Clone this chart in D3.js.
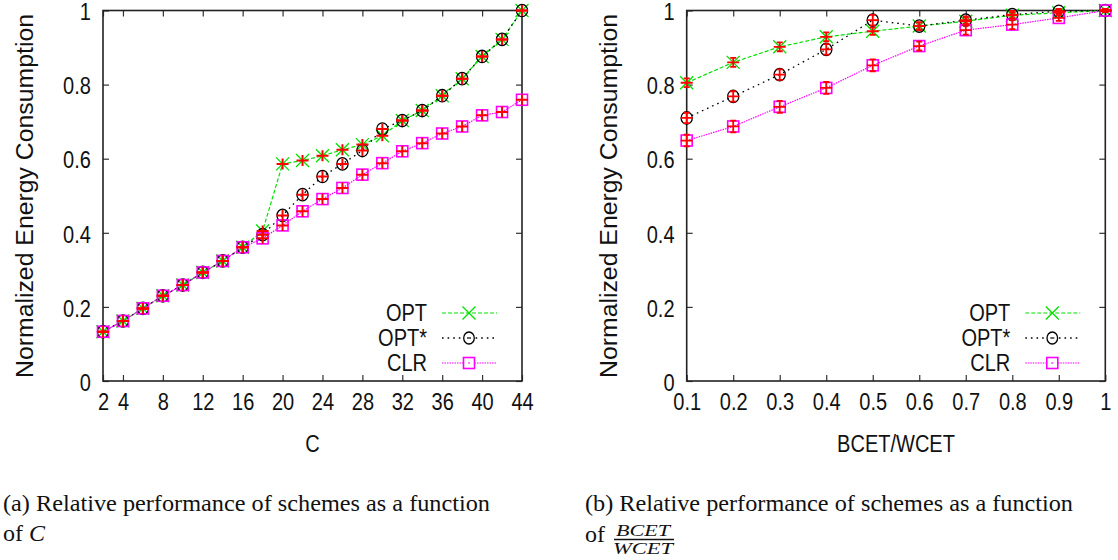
<!DOCTYPE html>
<html><head><meta charset="utf-8">
<script src="https://cdn.jsdelivr.net/npm/d3@7"></script>
<style>body{margin:0;background:#fff}svg{display:block}</style>
</head><body>
<svg id="c" width="1118" height="560"></svg>
<script>
// ---- data: plot (a), x = C ----
const cValues   = [2,4,6,8,10,12,14,16,18,20,22,24,26,28,30,32,34,36,38,40,42,44];
const cTicks    = [2,4,8,12,16,20,24,28,32,36,40,44];
const optC      = [0.133,0.162,0.196,0.230,0.259,0.293,0.324,0.361,0.405,0.586,0.595,0.608,0.624,0.638,0.662,0.703,0.730,0.770,0.816,0.876,0.922,1.000];
const optStarC  = [0.133,0.162,0.196,0.230,0.259,0.293,0.324,0.361,0.395,0.447,0.503,0.552,0.586,0.622,0.680,0.703,0.730,0.770,0.816,0.876,0.922,1.000];
const clrC      = [0.133,0.162,0.196,0.230,0.259,0.293,0.324,0.361,0.385,0.420,0.458,0.491,0.521,0.557,0.588,0.620,0.642,0.668,0.687,0.717,0.726,0.759];
// ---- data: plot (b), x = BCET/WCET ----
const ratioValues = [0.1,0.2,0.3,0.4,0.5,0.6,0.7,0.8,0.9,1.0];
const ratioTickLabels = ["0.1","0.2","0.3","0.4","0.5","0.6","0.7","0.8","0.9","1"];
const optR      = [0.805,0.860,0.902,0.929,0.944,0.958,0.971,0.987,0.994,1.000];
const optStarR  = [0.710,0.768,0.827,0.895,0.974,0.958,0.974,0.989,0.998,1.000];
const clrR      = [0.649,0.687,0.740,0.791,0.852,0.904,0.947,0.962,0.980,1.000];
const errOptR     = [0.012,0.012,0.012,0.012,0.010,0.010,0.010,0.008,0.006,0.004];
const errOptStarR = [0.014,0.014,0.014,0.014,0.014,0.010,0.010,0.010,0.006,0.004];
const errClrR     = [0.016,0.016,0.016,0.016,0.016,0.012,0.012,0.012,0.008,0.004];
// ---- shared ----
const yTicks = [0,0.2,0.4,0.6,0.8,1];
const yTickLabels = ["0","0.2","0.4","0.6","0.8","1"];
const seriesNames = ["OPT","OPT*","CLR"];

const svg = d3.select("#c");
const SANS = "'Liberation Sans', Arial, Helvetica, sans-serif";
const SERIF = "'Liberation Serif', 'Times New Roman', serif";
const SX = 0.87;
const GREEN = "#00e000", MAG = "#ff00ff", RED = "#ff0000";

const yTop = 10.5, yBottom = 381;

function crossPath(s){return `M${-s},${-s}L${s},${s}M${-s},${s}L${s},${-s}`;}

function panel(opts){
  const {x0,x1,xDomain,xTickVals,xTickFmt,xs,ser,errs,xLabel,yLabelLen} = opts;
  const x = d3.scaleLinear().domain(xDomain).range([x0,x1]);
  const y = d3.scaleLinear().domain([0,1]).range([yBottom,yTop]);
  const g = svg.append("g");

  const styleAxis = a => { a.select(".domain").remove(); a.selectAll("line").attr("stroke","#333").attr("stroke-width",1.2); };
  const ab = g.append("g").attr("transform",`translate(0,${yBottom})`)
    .call(d3.axisBottom(x).tickValues(xTickVals).tickFormat(xTickFmt).tickSize(-6).tickSizeOuter(0).tickPadding(13));
  styleAxis(ab);
  const at = g.append("g").attr("transform",`translate(0,${yTop})`)
    .call(d3.axisTop(x).tickValues(xTickVals).tickFormat("").tickSize(-6).tickSizeOuter(0));
  styleAxis(at);
  const al = g.append("g").attr("transform",`translate(${x0},0)`)
    .call(d3.axisLeft(y).tickValues(yTicks).tickFormat((d,i)=>yTickLabels[i]).tickSize(-6).tickSizeOuter(0).tickPadding(14));
  styleAxis(al);
  const ar = g.append("g").attr("transform",`translate(${x1},0)`)
    .call(d3.axisRight(y).tickValues(yTicks).tickFormat("").tickSize(-6).tickSizeOuter(0));
  styleAxis(ar);
  [ab,al].forEach(a=>a.selectAll("text").attr("font-family",SANS).attr("font-size",23).attr("fill","#111").attr("transform",`scale(${SX},1)`));
  al.selectAll("text").attr("dy","0.4em");

  g.append("rect").attr("x",x0).attr("y",yTop).attr("width",x1-x0).attr("height",yBottom-yTop)
    .attr("fill","none").attr("stroke","#222").attr("stroke-width",1.6);

  const styles = [
    {color:GREEN, dash:"4,2", w:1.2},
    {color:"#000", dash:"1.6,4", w:1.3},
    {color:MAG, dash:"1.5,1", w:1.2}
  ];
  const line = d3.line().x((d,i)=>x(xs[i])).y(d=>y(d));
  ser.forEach((s,k)=>{
    g.append("path").datum(s).attr("d",line).attr("fill","none")
      .attr("stroke",styles[k].color).attr("stroke-width",styles[k].w).attr("stroke-dasharray",styles[k].dash);
  });
  ser.forEach((s,k)=>{
    s.forEach((v,i)=>{
      const px = x(xs[i]), py = y(v);
      if(k===0) g.append("path").attr("d",crossPath(6.5)).attr("transform",`translate(${px},${py})`).attr("stroke",GREEN).attr("stroke-width",1.3).attr("fill","none");
      if(k===1) g.append("ellipse").attr("cx",px).attr("cy",py).attr("rx",5.6).attr("ry",6.2).attr("stroke","#000").attr("stroke-width",1.3).attr("fill","none");
      if(k===2) g.append("rect").attr("x",px-5.5).attr("y",py-5.5).attr("width",11).attr("height",11).attr("stroke",MAG).attr("stroke-width",1.6).attr("fill","none");
    });
  });
  ser.forEach((s,k)=>{
    s.forEach((v,i)=>{
      const px = x(xs[i]), py = y(v);
      if(errs){
        const e = errs[k][i];
        const ya = y(v-e), yb = y(v+e);
        g.append("path").attr("d",`M${px},${ya}V${yb}M${px-3},${ya}H${px+3}M${px-3},${yb}H${px+3}M${px-6},${py}H${px+6}`)
          .attr("stroke",RED).attr("stroke-width",1.8).attr("fill","none");
      } else {
        g.append("path").attr("d",`M${px-6},${py}H${px+6}M${px},${py-5.5}V${py+5.5}`)
          .attr("stroke",RED).attr("stroke-width",2).attr("fill","none");
      }
    });
  });

  g.append("g").attr("transform",`translate(${(x0+x1)/2},${452}) scale(${SX},1)`)
    .append("text").attr("text-anchor","middle").attr("font-family",SANS).attr("font-size",23).attr("fill","#111").text(xLabel);
  g.append("text").attr("transform",`translate(${x0-70},${196}) rotate(-90)`)
    .attr("text-anchor","middle").attr("font-family",SANS).attr("font-size",23).attr("fill","#111")
    .attr("textLength",yLabelLen).attr("lengthAdjust","spacingAndGlyphs").text("Normalized Energy Consumption");

  const lx = x1 - 95, rows = [313,338,363];
  seriesNames.forEach((nm,k)=>{
    const ry = rows[k];
    g.append("g").attr("transform",`translate(${lx},${ry+8}) scale(${SX},1)`)
      .append("text").attr("text-anchor","end").attr("font-family",SANS).attr("font-size",23).attr("fill","#111").text(nm);
    g.append("line").attr("x1",lx+15).attr("x2",lx+70).attr("y1",ry).attr("y2",ry)
      .attr("stroke",styles[k].color).attr("stroke-width",styles[k].w).attr("stroke-dasharray",styles[k].dash);
    const mx = lx+42;
    if(k===0) g.append("path").attr("d",crossPath(6.5)).attr("transform",`translate(${mx},${ry})`).attr("stroke",GREEN).attr("stroke-width",1.3).attr("fill","none");
    if(k===1){ g.append("ellipse").attr("cx",mx).attr("cy",ry).attr("rx",5.3).attr("ry",6).attr("stroke","#000").attr("stroke-width",1.3).attr("fill","#fff");
      g.append("line").attr("x1",mx-2).attr("x2",mx+2).attr("y1",ry).attr("y2",ry).attr("stroke","#000").attr("stroke-width",1.2);}
    if(k===2){ g.append("rect").attr("x",mx-5.5).attr("y",ry-5.5).attr("width",11).attr("height",11).attr("stroke",MAG).attr("stroke-width",1.6).attr("fill","#fff");
      g.append("line").attr("x1",mx-1).attr("x2",mx+1).attr("y1",ry).attr("y2",ry).attr("stroke",MAG).attr("stroke-width",1.2);}
  });
}

panel({x0:103, x1:522, xDomain:[2,44], xTickVals:cTicks, xTickFmt:d=>String(d), xs:cValues,
  ser:[optC,optStarC,clrC], errs:null, xLabel:"C", yLabelLen:364});
panel({x0:686.7, x1:1105.3, xDomain:[0.1,1.0], xTickVals:ratioValues, xTickFmt:(d,i)=>ratioTickLabels[i], xs:ratioValues,
  ser:[optR,optStarR,clrR], errs:[errOptR,errOptStarR,errClrR], xLabel:"BCET/WCET", yLabelLen:364});

svg.append("text").attr("x",3).attr("y",511).attr("font-family",SERIF).attr("font-size",24).attr("fill","#111")
  .attr("textLength",487).attr("lengthAdjust","spacingAndGlyphs").text("(a) Relative performance of schemes as a function");
const c2 = svg.append("text").attr("x",3).attr("y",541).attr("font-family",SERIF).attr("font-size",24).attr("fill","#111");
c2.append("tspan").text("of ");
c2.append("tspan").attr("font-style","italic").text("C");

svg.append("text").attr("x",585).attr("y",511).attr("font-family",SERIF).attr("font-size",24).attr("fill","#111")
  .attr("textLength",488).attr("lengthAdjust","spacingAndGlyphs").text("(b) Relative performance of schemes as a function");
svg.append("text").attr("x",585).attr("y",542).attr("font-family",SERIF).attr("font-size",24).attr("fill","#111").text("of");
svg.append("text").attr("x",643).attr("y",535.5).attr("text-anchor","middle").attr("font-family",SERIF).attr("font-style","italic").attr("font-size",16).attr("fill","#111")
  .attr("textLength",54).attr("lengthAdjust","spacingAndGlyphs").text("BCET");
svg.append("line").attr("x1",614).attr("x2",674).attr("y1",539.5).attr("y2",539.5).attr("stroke","#111").attr("stroke-width",1.3);
svg.append("text").attr("x",643).attr("y",553.5).attr("text-anchor","middle").attr("font-family",SERIF).attr("font-style","italic").attr("font-size",16).attr("fill","#111")
  .attr("textLength",60).attr("lengthAdjust","spacingAndGlyphs").text("WCET");
</script>
</body></html>
